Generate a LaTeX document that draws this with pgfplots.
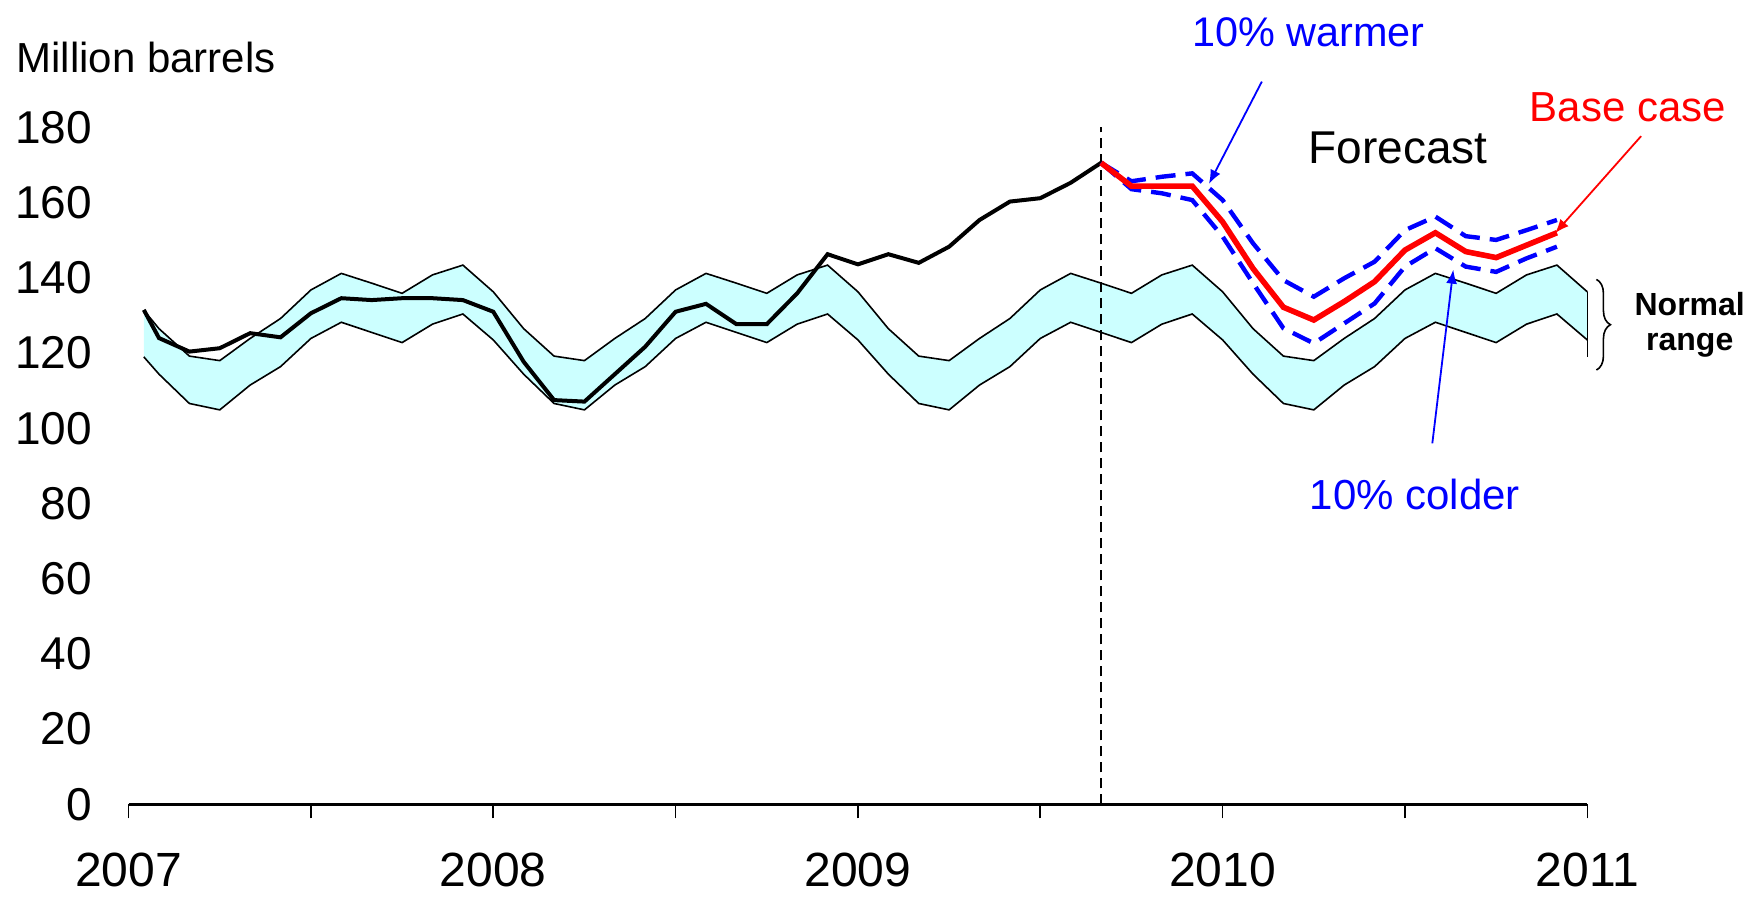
\documentclass[border=0pt]{standalone}
\usepackage{pgfplots}
\pgfplotsset{compat=1.18}
\usepackage{pgfplotstable}
\usepgfplotslibrary{fillbetween}
\usetikzlibrary{arrows.meta,decorations.pathreplacing}
\usepackage{fontspec}
\setmainfont{Liberation Sans}
\definecolor{bandcyan}{RGB}{204,255,255}

\pgfplotstableread{
k up lo
0.5 131.4 119.0
1 126.5 114.4
2 119.2 106.6
3 118.0 104.9
4 123.9 111.5
5 129.2 116.4
6 136.8 123.9
7 141.2 128.2
8 138.6 125.5
9 135.9 122.8
10 140.8 127.7
11 143.4 130.4
12 136.3 123.5
13 126.5 114.4
14 119.2 106.6
15 118.0 104.9
16 123.9 111.5
17 129.2 116.4
18 136.8 123.9
19 141.2 128.2
20 138.6 125.5
21 135.9 122.8
22 140.8 127.7
23 143.4 130.4
24 136.3 123.5
25 126.5 114.4
26 119.2 106.6
27 118.0 104.9
28 123.9 111.5
29 129.2 116.4
30 136.8 123.9
31 141.2 128.2
32 138.6 125.5
33 135.9 122.8
34 140.8 127.7
35 143.4 130.4
36 136.3 123.5
37 126.5 114.4
38 119.2 106.6
39 118.0 104.9
40 123.9 111.5
41 129.2 116.4
42 136.8 123.9
43 141.2 128.2
44 138.6 125.5
45 135.9 122.8
46 140.8 127.7
47 143.4 130.4
48 136.3 123.5
}\band

\pgfplotstableread{
k v
0.5 131.5
1 124.0
2 120.4
3 121.3
4 125.3
5 124.2
6 130.6
7 134.6
8 134.1
9 134.6
10 134.6
11 134.1
12 131.0
13 117.7
14 107.5
15 107.1
16 114.4
17 121.7
18 131.0
19 133.1
20 127.7
21 127.7
22 135.9
23 146.3
24 143.6
25 146.3
26 144.0
27 148.3
28 155.4
29 160.3
30 161.2
31 165.3
32 170.6
}\hist

\pgfplotstableread{
k base warm cold
32 170.6 170.6 170.6
33 164.4 165.7 163.6
34 164.4 166.9 162.5
35 164.4 167.8 160.7
36 154.9 160.7 151.0
37 142.5 149.2 138.6
38 132.2 139.4 126.6
39 128.8 135.0 122.6
40 133.7 139.9 127.9
41 139.0 144.3 133.2
42 147.4 152.7 143.0
43 152.0 156.3 147.9
44 147.0 151.1 143.0
45 145.4 150.1 141.6
46 148.7 152.7 145.2
47 152.0 155.4 148.3
}\fc

\begin{document}
\begin{tikzpicture}
\begin{axis}[
  name=ax, at={(0,0)}, anchor=south west,
  scale only axis, width=729.35pt, height=338.4pt,
  xmin=0, xmax=48, ymin=0, ymax=180,
  enlargelimits=false, clip=false,
  axis lines*=left,
  y axis line style={draw=none},
  x axis line style={line width=1.3pt},
  ytick={0,20,...,180},
  ytick style={draw=none},
  xtick={0,6,...,48},
  xticklabels={2007,,2008,,2009,,2010,,2011},
  xtick style={line width=0.8pt, black},
  tick align=outside,
  major tick length=7pt,
  /pgf/number format/assume math mode=true,
  yticklabel style={font=\fontsize{23}{25}\selectfont, anchor=east, inner sep=0pt, xshift=-11.2pt},
  xticklabel style={font=\fontsize{24}{26}\selectfont, anchor=north, inner sep=0pt, yshift=-17.3pt},
]
\addplot[draw=none, name path=up, forget plot] table[x=k, y=up] {\band};
\addplot[draw=none, name path=lo, forget plot] table[x=k, y=lo] {\band};
\addplot[fill=bandcyan, draw=none] fill between[of=up and lo];
\addplot[black, line width=0.8pt] table[x=k, y=up] {\band};
\addplot[black, line width=0.8pt] table[x=k, y=lo] {\band};
\draw[black, line width=0.8pt] (axis cs:48,136.3) -- (axis cs:48,118.9);
\addplot[black, line width=2pt] table[x=k, y=v] {\hist};
\draw[black, line width=1.2pt, dash pattern=on 5pt off 3pt] (axis cs:32,0) -- (axis cs:32,180.2);
\addplot[blue, line width=2.2pt, dash pattern=on 10pt off 5pt] table[x=k, y=warm] {\fc};
\addplot[blue, line width=2.2pt, dash pattern=on 10pt off 5pt] table[x=k, y=cold] {\fc};
\addplot[red, line width=2.8pt] table[x=k, y=base] {\fc};

\node[anchor=base west, inner sep=0pt, font=\fontsize{21}{24}\selectfont] at (axis cs:-3.705,194.6) {Million barrels};
\node[anchor=base west, inner sep=0pt, font=\fontsize{20.7}{23}\selectfont, text=blue] at (axis cs:34.98,201.5) {10\% warmer};
\draw[blue, line width=0.9pt, -{Latex[length=7pt,width=5.5pt]}] (axis cs:37.29,192.2) -- (axis cs:35.55,165.0);
\node[anchor=base west, inner sep=0pt, font=\fontsize{23}{26}\selectfont] at (axis cs:38.81,170.5) {Forecast};
\node[anchor=base west, inner sep=0pt, font=\fontsize{21}{24}\selectfont, text=red] at (axis cs:46.09,181.5) {Base case};
\draw[red, line width=0.9pt, -{Latex[length=7pt,width=5.5pt]}] (axis cs:49.77,177.7) -- (axis cs:46.94,151.9);
\node[anchor=base west, inner sep=0pt, font=\fontsize{21}{24}\selectfont, text=blue] at (axis cs:38.85,78.3) {10\% colder};
\draw[blue, line width=0.9pt, -{Latex[length=7pt,width=5.5pt]}] (axis cs:42.90,96.0) -- (axis cs:43.59,142.2);
\draw[black, line width=0.8pt, decorate, decoration={brace, amplitude=7pt}] (axis cs:48.30,139.6) -- (axis cs:48.30,115.5);
\node[align=center, inner sep=0pt, font=\fontsize{16}{17.5}\selectfont\bfseries] at (axis cs:51.37,127.5) {Normal\\range};
\end{axis}
\pgfresetboundingbox
\useasboundingbox (-64.3pt,-47.85pt) rectangle (812.7pt,402.15pt);
\end{tikzpicture}
\end{document}
